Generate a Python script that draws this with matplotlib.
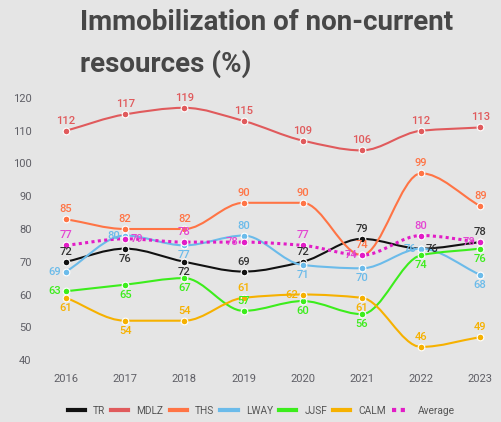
import numpy as np
import matplotlib
matplotlib.use("Agg")
import matplotlib.pyplot as plt
from matplotlib.path import Path
from matplotlib.patches import PathPatch
from matplotlib.lines import Line2D

plt.rcParams['font.family'] = ['Roboto', 'DejaVu Sans']

years = [2016, 2017, 2018, 2019, 2020, 2021, 2022, 2023]
tr = [72, 76, 72, 69, 72, 79, 76, 78]
mdlz = [112, 117, 119, 115, 109, 106, 112, 113]
ths = [85, 82, 82, 90, 90, 74, 99, 89]
lway = [69, 80, 77, 80, 71, 70, 76, 68]
jjsf = [63, 65, 67, 57, 60, 56, 74, 76]
calm = [61, 54, 54, 61, 62, 61, 46, 49]
average = [77, 79, 78, 78, 77, 74, 80, 78]
y_ticks = [40, 50, 60, 70, 80, 90, 100, 110, 120]

# in the original the dots sit 2 units under their labels relative to the axis
AXIS_SHIFT = 2

# label placement per point: t=top b=bottom l=left r=right
tr_pos = ['t', 'b', 'b', 't', 't', 't', 'r', 't']
mdlz_pos = ['t'] * 8
ths_pos = ['t'] * 8
lway_pos = ['l', 'l', 'b', 't', 'b', 'b', 'l', 'b']
jjsf_pos = ['l', 'b', 'b', 't', 'b', 'b', 'b', 'b']
calm_pos = ['b', 'b', 't', 't', 'l', 'b', 't', 't']
avg_pos = ['t', 'r', 't', 'l', 't', 'l', 't', 'l']

series = [
    ("TR", tr, tr_pos, "#111111", "#333333", "-"),
    ("MDLZ", mdlz, mdlz_pos, "#e05a5c", "#e05a5c", "-"),
    ("THS", ths, ths_pos, "#ff7445", "#ff7445", "-"),
    ("LWAY", lway, lway_pos, "#6bbbea", "#6bbbea", "-"),
    ("JJSF", jjsf, jjsf_pos, "#3ced1c", "#3ced1c", "-"),
    ("CALM", calm, calm_pos, "#f6b100", "#f6b100", "-"),
    ("Average", average, avg_pos, "#e21cc6", "#e446d2", (0, (1, 1.1))),
]


def smooth_path(x, y):
    # monotone cubic (Fritsch-Carlson) tangents, drawn as bezier segments
    x = np.asarray(x, float)
    y = np.asarray(y, float)
    h = np.diff(x)
    delta = np.diff(y) / h
    d = np.zeros_like(y)
    d[0] = delta[0]
    d[-1] = delta[-1]
    for k in range(1, len(y) - 1):
        if delta[k - 1] * delta[k] <= 0:
            d[k] = 0
        else:
            w1 = 2 * h[k] + h[k - 1]
            w2 = h[k] + 2 * h[k - 1]
            d[k] = (w1 + w2) / (w1 / delta[k - 1] + w2 / delta[k])
    verts = [(x[0], y[0])]
    codes = [Path.MOVETO]
    for i in range(len(x) - 1):
        verts += [(x[i] + h[i] / 3, y[i] + d[i] * h[i] / 3),
                  (x[i + 1] - h[i] / 3, y[i + 1] - d[i + 1] * h[i] / 3),
                  (x[i + 1], y[i + 1])]
        codes += [Path.CURVE4] * 3
    return Path(verts, codes)


W, H = 502, 422
fig = plt.figure(figsize=(W / 100, H / 100), dpi=100)
bg = "#e5e5e5"
fig.patch.set_facecolor(bg)

left, right, top, bottom = 40, 495, 90, 368
ax = fig.add_axes([left / W, 1 - bottom / H, (right - left) / W, (bottom - top) / H])
ax.set_facecolor(bg)
ax.set_xlim(2015.56, 2023.25)
ax.set_ylim(39.56, 124.44)
for s in ax.spines.values():
    s.set_visible(False)
ax.set_xticks(years)
ax.set_xticklabels([str(y) for y in years])
ax.set_yticks([t + AXIS_SHIFT for t in y_ticks])
ax.set_yticklabels([str(t) for t in y_ticks])
ax.tick_params(axis='both', length=0, labelsize=8, labelcolor="#5f5f66")
ax.tick_params(axis='y', pad=6)
ax.tick_params(axis='x', pad=4)

offsets = {'t': (0, 3.6, 'center', 'bottom'), 'b': (0, -3.6, 'center', 'top'),
           'l': (-3.6, 0, 'right', 'center'), 'r': (3.6, 0, 'left', 'center')}

handles = []
for i, (name, vals, pos, col, lcol, ls) in enumerate(series):
    lw = 2.2 if name == "Average" else 1.5
    patch = PathPatch(smooth_path(years, vals), fill=False, edgecolor=col,
                      linewidth=lw, linestyle=ls, capstyle='butt', zorder=2 + i)
    ax.add_patch(patch)
    ax.plot(years, vals, linestyle='none', marker='o', markersize=4.8,
            markerfacecolor=col, markeredgecolor='white', markeredgewidth=0.8,
            zorder=2.5 + i)
    for x, v, p in zip(years, vals, pos):
        dx, dy, ha, va = offsets[p]
        ax.annotate(str(v), (x, v), xytext=(dx, dy), textcoords='offset points',
                    ha=ha, va=va, fontsize=8, color=lcol, fontweight='medium',
                    zorder=20, annotation_clip=False)
    handles.append(Line2D([], [], color=col, linewidth=3,
                          linestyle=ls, label=name))

leg = fig.legend(handles=handles, loc='center', bbox_to_anchor=(0.52, 1 - 411 / H),
                 ncol=7, frameon=False, fontsize=7.3, handlelength=1.7,
                 handletextpad=0.8, columnspacing=0.6, labelcolor="#555555")

fig.text(80 / W, 1 - 30 / H, "Immobilization of non-current", fontsize=20,
         fontweight='bold', color="#474747", ha='left', va='baseline')
fig.text(80 / W, 1 - 72 / H, "resources (%)", fontsize=20,
         fontweight='bold', color="#474747", ha='left', va='baseline')

fig.savefig("out.png", dpi=100, facecolor=bg)
